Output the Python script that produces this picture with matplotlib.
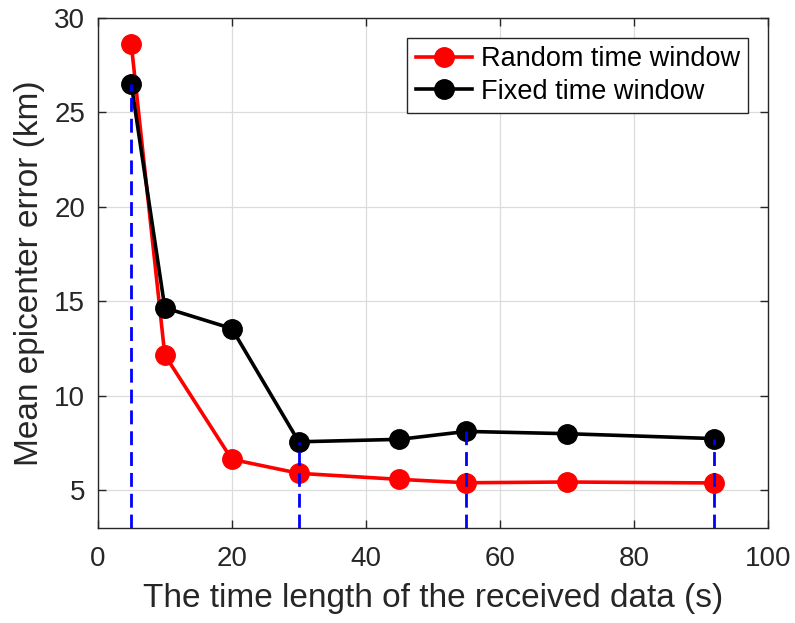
import numpy as np
import matplotlib
matplotlib.use("Agg")
from matplotlib import pyplot as plt

# data
t_len = [5, 10, 20, 30, 45, 55, 70, 92]
err_random = [28.6, 12.15, 6.62, 5.88, 5.56, 5.38, 5.42, 5.37]
err_fixed = [26.5, 14.65, 13.55, 7.55, 7.68, 8.1, 7.98, 7.72]
marked_t = [5, 30, 55, 92]
x_ticks = [0, 20, 40, 60, 80, 100]
y_ticks = [5, 10, 15, 20, 25, 30]

plt.rcParams['font.family'] = ['Liberation Sans', 'DejaVu Sans']

fig = plt.figure(figsize=(7.95, 6.23), dpi=100)
ax = fig.add_axes([0.123, 0.153, 0.843, 0.818])

ax.plot(t_len, err_random, color="red", lw=2.6, marker="o", ms=14,
        label="Random time window", zorder=3)
ax.plot(t_len, err_fixed, color="black", lw=2.6, marker="o", ms=14,
        label="Fixed time window", zorder=3)

# dashed guides from the bottom up to the fixed-window value
for t in marked_t:
    top = err_fixed[t_len.index(t)]
    ax.plot([t, t], [3, top], color="blue", ls=(0, (5, 2.5)), lw=2.0, zorder=4)

ax.set_xlim(0, 100)
ax.set_ylim(3, 30)
ax.set_xticks(x_ticks)
ax.set_yticks(y_ticks)
ax.grid(True, color="#dcdcdc", lw=0.9)
ax.set_axisbelow(True)
ax.tick_params(direction="in", top=True, right=True, labelsize=20, length=6,
               width=1, colors="#262626", pad=9)
ax.tick_params(axis="x", pad=13)
for s in ax.spines.values():
    s.set_color("#262626")
    s.set_linewidth(1)

ax.set_xlabel("The time length of the received data (s)", fontsize=24,
              color="#262626", labelpad=8)
ax.set_ylabel("Mean epicenter error (km)", fontsize=24, color="#262626",
              labelpad=7)

leg = ax.legend(loc="upper right", fontsize=19.5, fancybox=False, framealpha=1,
                edgecolor="#262626", handlelength=2.1, handletextpad=0.3,
                borderpad=0.3, labelspacing=0.25, borderaxespad=0,
                bbox_to_anchor=(0.970, 0.961))
leg.get_frame().set_linewidth(1)

fig.savefig("out.png", dpi=100)
